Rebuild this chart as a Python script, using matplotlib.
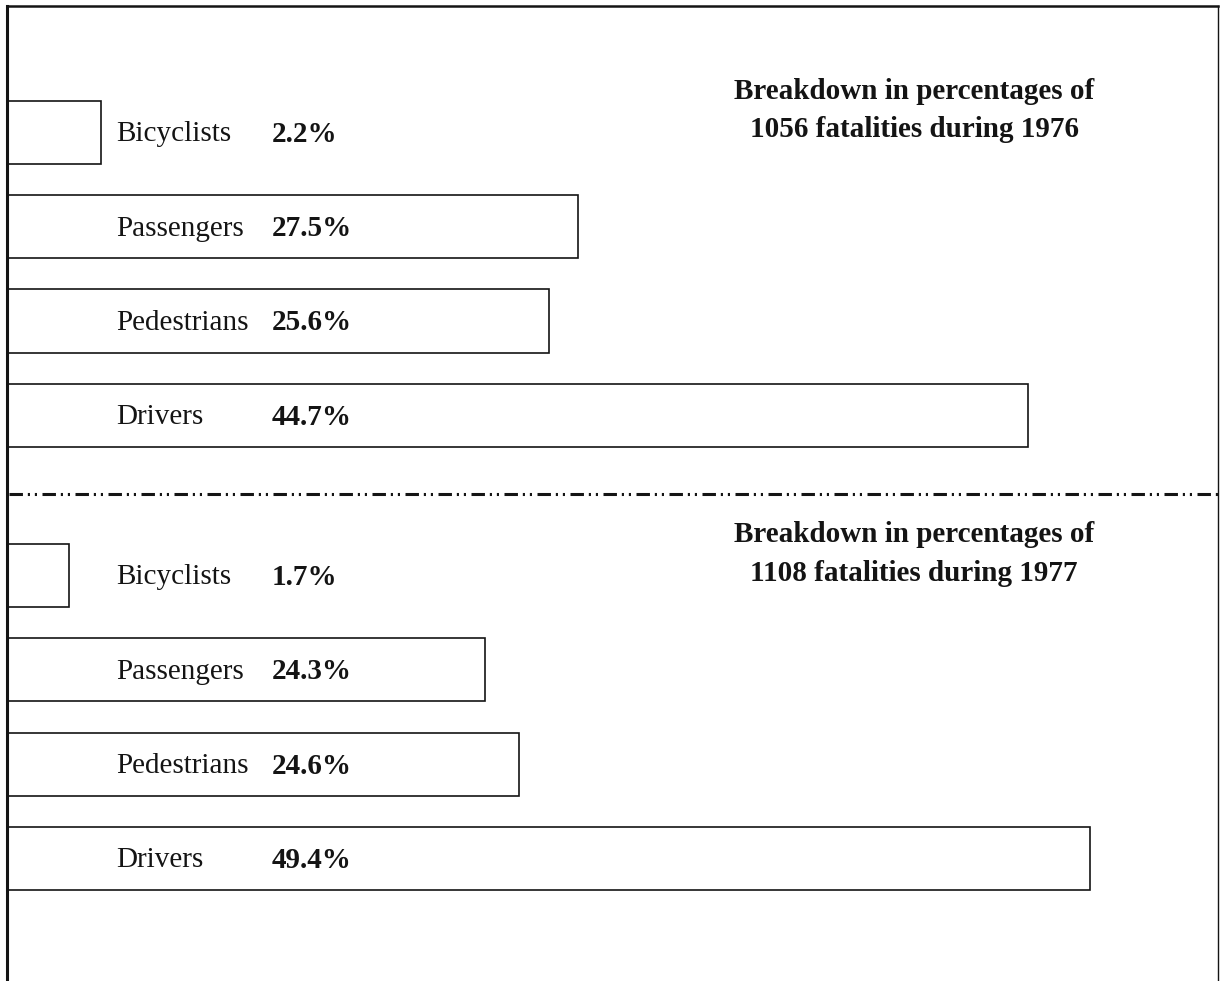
"""
Fatalities breakdown 1976 / 1977 - two stacked panels of outlined bars
"""
import matplotlib; matplotlib.use('Agg')
import matplotlib.pyplot as plt

plt.rcParams['font.family'] = ['Liberation Serif', 'DejaVu Serif']

# ---- data ----
categories = ['Bicyclists', 'Passengers', 'Pedestrians', 'Drivers']
pct_1976 = [2.2, 27.5, 25.6, 44.7]
pct_1977 = [1.7, 24.3, 24.6, 49.4]
# bar lengths as drawn in the original (not exactly to scale), in % units
drawn_1976 = [4.1, 25.0, 23.7, 44.7]
drawn_1977 = [2.7, 20.9, 22.4, 47.4]
titles = ['Breakdown in percentages of\n1056 fatalities during 1976',
          'Breakdown in percentages of\n1108 fatalities during 1977']

INK = '#141414'
ROW_OFFSET = 4.70          # bottom panel starts this many rows lower
BAR_H = 0.67

fig = plt.figure(figsize=(12.2, 9.81), dpi=100)
ax = fig.add_axes([7/1220, 0, 1211/1220, 975/981])
ax.set_xlim(0, 53.0)
ax.set_ylim(9.0, -1.34)
ax.set_xticks([]); ax.set_yticks([])
for s in ['left', 'top', 'right']:
    ax.spines[s].set_color(INK)
ax.spines['left'].set_linewidth(2.2)
ax.spines['top'].set_linewidth(1.8)
ax.spines['right'].set_linewidth(1.0)
ax.spines['bottom'].set_visible(False)

for k, (pcts, drawn, title) in enumerate([(pct_1976, drawn_1976, titles[0]),
                                          (pct_1977, drawn_1977, titles[1])]):
    off = k * ROW_OFFSET
    ys = [i + off for i in range(len(categories))]
    ax.barh(ys, drawn, height=BAR_H, left=0, color='white',
            edgecolor=INK, linewidth=1.2)
    for y, cat, p in zip(ys, categories, pcts):
        ax.text(4.8, y + 0.02, cat, ha='left', va='center', fontsize=21, color=INK)
        ax.text(11.6, y + 0.02, f'{p:.1f}%', ha='left', va='center',
                fontsize=21, fontweight='bold', color=INK)
    ax.text(39.7, off - 0.23, title, ha='center', va='center', fontsize=21,
            fontweight='bold', color=INK, linespacing=1.55)

# dash-dot-dot separator between the two years (dash units scale with lw)
ax.axhline(3.84, xmin=0.002, xmax=1.0, color=INK, linewidth=2.2,
           linestyle=(0, (4.4, 1.6, 0.7, 1.6, 0.7, 1.8)))

plt.savefig('out.png', dpi=100)
plt.close()
